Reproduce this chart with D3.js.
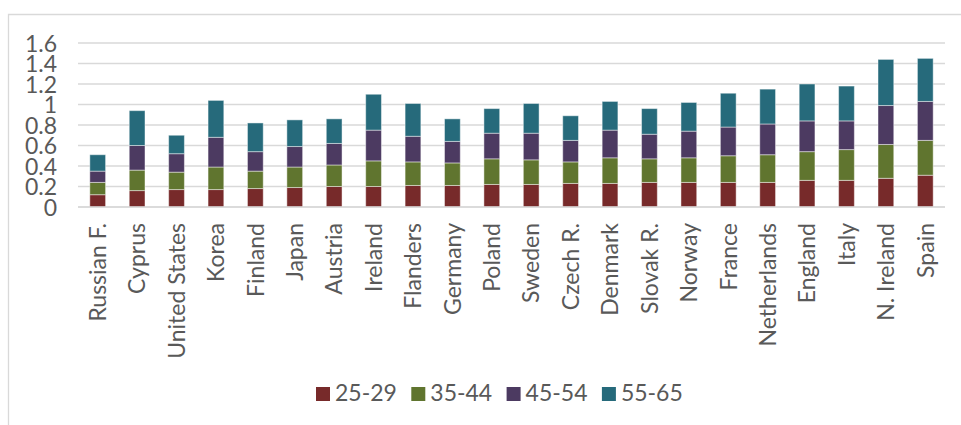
<!DOCTYPE html>
<html>
<head>
<meta charset="utf-8">
<script src="https://cdn.jsdelivr.net/npm/d3@7"></script>
<style>
  html, body { margin: 0; padding: 0; background: #fff; }
  svg { display: block; }
  text { font-family: Lato, "Liberation Sans", sans-serif; fill: #595959; }
</style>
</head>
<body>
<svg id="chart" width="961" height="425"></svg>
<script>
// Countries along the x axis
const countries = ["Russian F.", "Cyprus", "United States", "Korea", "Finland", "Japan", "Austria",
  "Ireland", "Flanders", "Germany", "Poland", "Sweden", "Czech R.", "Denmark", "Slovak R.",
  "Norway", "France", "Netherlands", "England", "Italy", "N. Ireland", "Spain"];

// Age-group series (one value per country)
const age25_29 = [0.12, 0.16, 0.17, 0.17, 0.18, 0.19, 0.20, 0.20, 0.21, 0.21, 0.22, 0.22, 0.23, 0.23, 0.24,
  0.24, 0.24, 0.24, 0.26, 0.26, 0.28, 0.31];
const age35_44 = [0.12, 0.20, 0.17, 0.22, 0.17, 0.20, 0.21, 0.25, 0.23, 0.22, 0.25, 0.24, 0.21, 0.25, 0.23,
  0.24, 0.26, 0.27, 0.28, 0.30, 0.33, 0.34];
const age45_54 = [0.11, 0.24, 0.18, 0.29, 0.19, 0.20, 0.21, 0.30, 0.25, 0.21, 0.25, 0.26, 0.21, 0.27, 0.24,
  0.26, 0.28, 0.30, 0.30, 0.28, 0.38, 0.38];
const age55_65 = [0.16, 0.34, 0.18, 0.36, 0.28, 0.26, 0.24, 0.35, 0.32, 0.22, 0.24, 0.29, 0.24, 0.28, 0.25,
  0.28, 0.33, 0.34, 0.36, 0.34, 0.45, 0.42];

const seriesNames = ["25-29", "35-44", "45-54", "55-65"];
const seriesColors = ["#772a2a", "#60752f", "#4c3a61", "#266a7b"];
const yTicks = [0, 0.2, 0.4, 0.6, 0.8, 1, 1.2, 1.4, 1.6];

const seriesValues = [age25_29, age35_44, age45_54, age55_65];
const table = countries.map((c, i) => {
  const row = { country: c };
  seriesNames.forEach((s, k) => { row[s] = seriesValues[k][i]; });
  return row;
});

const svg = d3.select("#chart");
const W = 961, H = 425;
const plot = { left: 78, right: 945, top: 43, bottom: 207 };

// Outer chart frame (left and top edges visible)
svg.append("path")
  .attr("d", `M8.5,${H} L8.5,14.5 L${W},14.5`)
  .attr("fill", "none")
  .attr("stroke", "#d9d9d9")
  .attr("stroke-width", 1.3);

const x = d3.scaleBand().domain(countries).range([plot.left, plot.right]).paddingInner(0.6).paddingOuter(0.3);
const y = d3.scaleLinear().domain([0, 1.6]).range([plot.bottom, plot.top]);

// Horizontal gridlines
svg.append("g")
  .selectAll("line")
  .data(yTicks)
  .join("line")
  .attr("x1", plot.left).attr("x2", plot.right)
  .attr("y1", d => y(d)).attr("y2", d => y(d))
  .attr("stroke", "#d9d9d9")
  .attr("stroke-width", 1.3);

// Y axis labels
const yAxis = d3.axisLeft(y).tickValues(yTicks).tickSize(0).tickPadding(0)
  .tickFormat(d => d3.format("")(+d.toFixed(1)));
const yg = svg.append("g").attr("transform", `translate(57,0)`).call(yAxis);
yg.select(".domain").remove();
yg.selectAll("text")
  .style("font-family", "Lato, 'Liberation Sans', sans-serif")
  .style("font-size", "23px")
  .attr("fill", "#595959")
  .attr("dy", "0.36em");

// Stacked bars
const stack = d3.stack().keys(seriesNames);
const layers = stack(table);

svg.append("g")
  .selectAll("g")
  .data(layers)
  .join("g")
  .attr("fill", (d, i) => seriesColors[i])
  .selectAll("rect")
  .data(d => d)
  .join("rect")
  .attr("x", d => x(d.data.country))
  .attr("width", x.bandwidth())
  .attr("y", d => y(d[1]))
  .attr("height", d => y(d[0]) - y(d[1]))
  .attr("stroke", "#ffffff")
  .attr("stroke-opacity", 0.45)
  .attr("stroke-width", 1);

// X axis line
svg.append("line")
  .attr("x1", plot.left).attr("x2", plot.right)
  .attr("y1", plot.bottom).attr("y2", plot.bottom)
  .attr("stroke", "#d9d9d9")
  .attr("stroke-width", 1.3);

// Rotated country labels
const xAxis = d3.axisBottom(x).tickSize(0).tickPadding(0);
const xg = svg.append("g").attr("transform", `translate(0,${plot.bottom})`).call(xAxis);
xg.select(".domain").remove();
xg.selectAll("text")
  .style("font-family", "Lato, 'Liberation Sans', sans-serif")
  .style("font-size", "23px")
  .attr("fill", "#595959")
  .attr("text-anchor", "end")
  .attr("transform", "rotate(-90)")
  .attr("x", -16)
  .attr("y", 0)
  .attr("dy", "0.36em");

// Legend
const legend = svg.append("g").selectAll("g")
  .data(seriesNames)
  .join("g")
  .attr("transform", (d, i) => `translate(${316 + i * 95.3},387)`);
legend.append("rect")
  .attr("width", 14).attr("height", 14)
  .attr("fill", (d, i) => seriesColors[i]);
legend.append("text")
  .attr("x", 19).attr("y", 13.5)
  .style("font-size", "23px")
  .text(d => d);
</script>
</body>
</html>
